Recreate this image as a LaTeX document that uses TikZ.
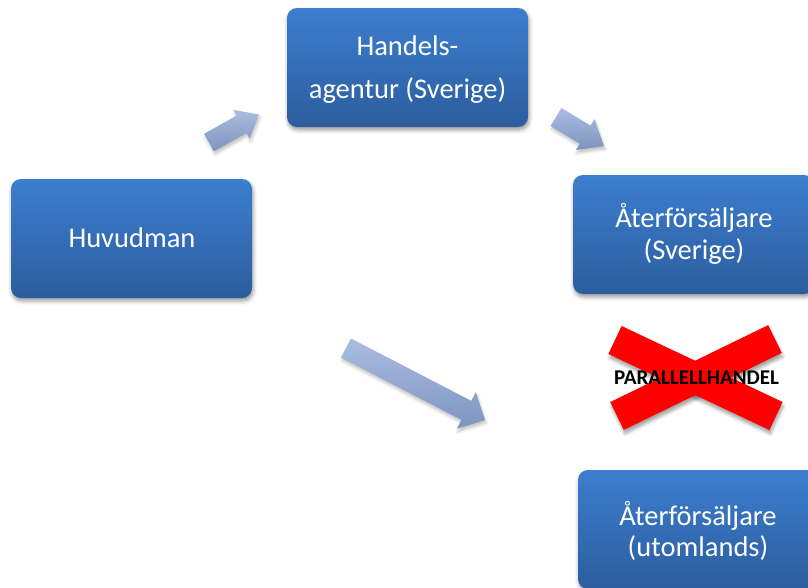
\documentclass[tikz,border=0pt]{standalone}
\usepackage{fontspec}
\setmainfont{Carlito}
\usetikzlibrary{calc,shadows.blur}
\definecolor{boxtop}{RGB}{60,126,207}
\definecolor{boxbot}{RGB}{44,93,158}
\definecolor{arrlight}{RGB}{170,189,225}
\definecolor{arrdark}{RGB}{126,148,191}
\definecolor{xred}{RGB}{255,0,0}
% tail, tip, shaft half width, head half width, head length
\newcommand\blockarr[5]{%
  \coordinate (ba-b) at ($(#2)!#5!(#1)$);
  \path[arrowfill] ($(#1)!#3!90:(#2)$) -- ($(ba-b)!#3!-90:(#1)$) -- ($(ba-b)!#4!-90:(#1)$) -- (#2)
     -- ($(ba-b)!#4!90:(#1)$) -- ($(ba-b)!#3!90:(#1)$) -- ($(#1)!#3!-90:(#2)$) -- cycle;
}
% bar from a to b with half width
\newcommand\xbarpath[3]{($(#1)!#3!90:(#2)$) -- ($(#2)!#3!-90:(#1)$) -- ($(#2)!#3!90:(#1)$) -- ($(#1)!#3!-90:(#2)$) -- cycle}
\begin{document}
\begin{tikzpicture}[x=1pt,y=-1pt,
  box/.style={rounded corners=10pt, minimum width=241pt, minimum height=119pt, inner sep=0pt,
    top color=boxtop, bottom color=boxbot, draw=none,
    blur shadow={shadow xshift=1pt, shadow yshift=-3pt, shadow blur radius=4pt, shadow opacity=40}},
  lbl/.style={anchor=base, inner sep=0pt, text=white, font=\fontsize{28.5}{34}\selectfont},
  arrowfill/.style={top color=arrlight, bottom color=arrdark,
    blur shadow={shadow xshift=1pt, shadow yshift=-3pt, shadow blur radius=3pt, shadow opacity=25}},
  xshadow/.style={blur shadow={shadow xshift=1pt, shadow yshift=-4pt, shadow blur radius=3pt, shadow opacity=35}},
  xfill/.style={fill=xred},
  ptxt/.style={anchor=base, inner sep=0pt, text=black, font=\bfseries\fontsize{21}{25}\selectfont}]
\useasboundingbox (0,0) rectangle (808,587);
\clip (0,0) rectangle (808,587);

% boxes
\node[box] (hv) at (131.5,238.5) {};
\node[box] (ha) at (407.5,67.5) {};
\node[box] (as) at (693.5,234.5) {};
\node[box] (au) at (698.5,529.5) {};

% labels
\node[lbl] (hv1) at (132,247) {Huvudman};
\node[lbl] (ha1) at (407.5,55) {Handels-};
\node[lbl] (ha2) at (407.5,98) {agentur (Sverige)};
\node[lbl] (as1) at (694,227) {Återförsäljare};
\node[lbl] (as2) at (694,259) {(Sverige)};
\node[lbl] (au1) at (698,525) {Återförsäljare};
\node[lbl] (au2) at (698,556) {(utomlands)};

% block arrows
\coordinate (a1t) at (209,142.5);
\coordinate (a1h) at (259,114.5);
\coordinate (a2t) at (556,117);
\coordinate (a2h) at (604,146);
\coordinate (a3t) at (346,348);
\coordinate (a3h) at (485,420);
\blockarr{a1t}{a1h}{10pt}{16.5pt}{20pt}
\blockarr{a2t}{a2h}{10.5pt}{18pt}{22pt}
\blockarr{a3t}{a3h}{10.7pt}{20.6pt}{21pt}

% red cross
\coordinate (x1) at (615,340);
\coordinate (x2) at (776,416);
\coordinate (x3) at (775,339);
\coordinate (x4) at (617,416);
\path[xshadow] \xbarpath{x1}{x2}{15.5pt};
\path[xshadow] \xbarpath{x3}{x4}{15.5pt};
\path[xfill] \xbarpath{x1}{x2}{15.5pt};
\path[xfill] \xbarpath{x3}{x4}{15.5pt};
\node[ptxt] (ph) at (696.5,384) {PARALLELLHANDEL};
\end{tikzpicture}
\end{document}
